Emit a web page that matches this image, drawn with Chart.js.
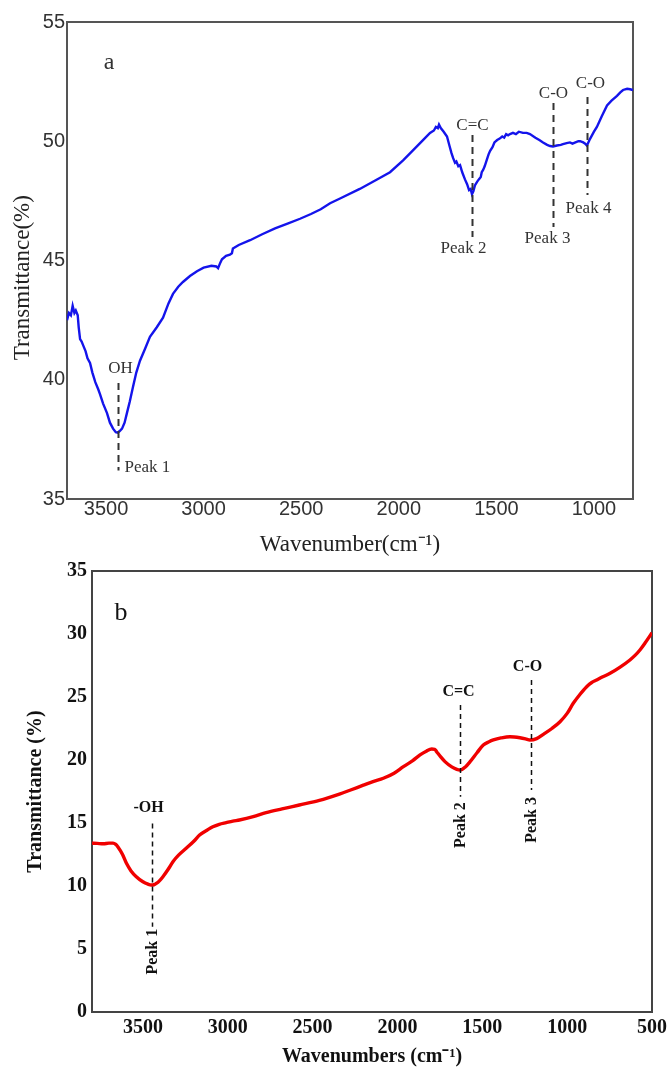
<!DOCTYPE html>
<html>
<head>
<meta charset="utf-8">
<script src="https://cdn.jsdelivr.net/npm/chart.js@4/dist/chart.umd.min.js"></script>
<style>
  body { margin: 0; background: #fff; }
  #wrap { position: relative; width: 667px; height: 1070px; }
  canvas { position: absolute; left: 0; }
</style>
</head>
<body>
<div id="wrap">
  <canvas id="chartA" width="667" height="560" style="top:0"></canvas>
  <canvas id="chartB" width="667" height="510" style="top:560px"></canvas>
</div>
<script>
// ---- panel a (blue spectrum) ----
const wnA = [3700,3690,3680,3671,3662,3655,3645,3640,3633,3625, 3615,3605,3595,3582,3570,3555,3540,3531,3515,3495,
  3480,3464,3450,3440,3430,3418,3405,3393,3378,3362, 3345,3326,3300,3275,3240,3208,3180,3157,3130,3106,
  3070,3034,3000,2960,2935,2926,2915,2906,2885,2865, 2855,2850,2820,2762,2700,2634,2570,2506,2450,2400,
  2352,2301,2200,2100,2045,1978,1930,1876,1840,1820, 1810,1800,1794,1785,1770,1753,1740,1730,1722,1712,
  1705,1695,1686,1675,1661,1650,1640,1632,1625,1618, 1610,1599,1590,1580,1575,1568,1560,1550,1540,1532,
  1520,1510,1496,1485,1470,1460,1450,1440,1430,1415, 1400,1385,1364,1345,1328,1300,1280,1261,1240,1225,
  1210,1190,1170,1159,1140,1123,1110,1095,1080,1071, 1055,1045,1036,1020,1000,985,960,933,910,882,
  865,851,830,815,800];
const trA = [42.5,42.8,42.7,43.1,42.8,42.9,42.7,42.2,41.7,41.6, 41.4,41.2,40.9,40.7,40.3,39.9,39.6,39.4,39.0,38.6,
  38.2,37.95,37.8,37.78,37.85,37.95,38.2,38.6,39.1,39.7, 40.3,40.8,41.3,41.8,42.2,42.6,43.2,43.6,43.9,44.1,
  44.35,44.55,44.7,44.78,44.75,44.68,44.9,45.05,45.2,45.25, 45.3,45.5,45.65,45.85,46.1,46.35,46.55,46.75,46.95,47.15,
  47.4,47.6,48.0,48.45,48.7,49.2,49.6,50.05,50.35,50.45, 50.6,50.55,50.7,50.55,50.4,50.2,49.8,49.5,49.3,49.1,
  49.15,48.95,49.0,48.7,48.4,48.2,47.95,48.0,47.78,47.9, 48.15,48.3,48.4,48.5,48.7,48.8,48.95,49.2,49.45,49.6,
  49.75,49.95,50.05,50.1,50.2,50.15,50.3,50.25,50.3,50.35, 50.3,50.4,50.35,50.35,50.3,50.15,50.05,49.95,49.85,49.8,
  49.78,49.82,49.85,49.88,49.92,49.95,49.9,49.95,50.0,50.0, 49.95,49.9,49.82,50.1,50.4,50.6,51.05,51.5,51.7,51.9,
  52.05,52.15,52.2,52.18,52.15];
const xTicksA = [3500, 3000, 2500, 2000, 1500, 1000];
const yTicksA = [35, 40, 45, 50, 55];
const peakWnA = [3437, 1625, 1210, 1036];
const peakGroupA = ['OH', 'C=C', 'C-O', 'C-O'];
const peakNameA = ['Peak 1', 'Peak 2', 'Peak 3', 'Peak 4'];

// ---- panel b (red spectrum) ----
const wnB = [3800,3770,3733,3700,3676,3660,3647,3620,3597,3570, 3539,3500,3470,3451,3435,3421,3400,3382,3350,3323,
  3290,3245,3200,3166,3120,3088,3050,3009,2970,2931, 2850,2774,2680,2578,2460,2342,2280,2201,2140,2083,
  2020,1965,1910,1867,1830,1798,1780,1769,1745,1720, 1680,1650,1631,1600,1572,1530,1494,1460,1435,1390,
  1337,1278,1245,1219,1180,1140,1090,1042,1000,964, 925,885,855,826,790,747,690,630,600,571,
  540,500];
const trB = [13.4,13.38,13.35,13.4,13.4,13.3,13.1,12.5,11.8,11.2, 10.74,10.34,10.15,10.08,10.1,10.2,10.45,10.74,11.35,11.93,
  12.45,12.99,13.55,14.05,14.45,14.7,14.9,15.03,15.15,15.24, 15.5,15.82,16.12,16.43,16.8,17.3,17.6,18.0,18.3,18.55,
  18.95,19.47,19.95,20.4,20.7,20.87,20.85,20.66,20.25,19.87, 19.45,19.25,19.2,19.45,19.87,20.6,21.19,21.45,21.59,21.75,
  21.85,21.77,21.68,21.59,21.7,22.04,22.5,23.04,23.7,24.5, 25.2,25.82,26.15,26.35,26.6,26.88,27.35,27.94,28.3,28.73,
  29.3,30.1];
const xTicksB = [3500, 3000, 2500, 2000, 1500, 1000, 500];
const yTicksB = [0, 5, 10, 15, 20, 25, 30, 35];
const peakWnB = [3445, 1633, 1213];
const peakGroupB = ['-OH', 'C=C', 'C-O'];
const peakNameB = ['Peak 1', 'Peak 2', 'Peak 3'];

const SERIF = "'Liberation Serif', 'Times New Roman', serif";
const SANS = "'Liberation Sans', Arial, sans-serif";

// frame + dashed peak markers, labels in data units
const peakPlugin = {
  id: 'peaks',
  beforeDatasetsDraw(chart, args, o) {
    const { ctx, chartArea: a } = chart;
    ctx.save();
    ctx.strokeStyle = o.frameColor;
    ctx.lineWidth = 2;
    ctx.strokeRect(a.left, a.top, a.right - a.left, a.bottom - a.top);
    ctx.restore();
  },
  afterDatasetsDraw(chart, args, o) {
    const { ctx } = chart;
    const xs = chart.scales.x, ys = chart.scales.y;
    ctx.save();
    ctx.fillStyle = o.color;
    ctx.textBaseline = 'middle';
    ctx.textAlign = 'center';
    ctx.font = o.letterFont;
    ctx.fillText(o.letter, xs.getPixelForValue(o.letterAt[0]), ys.getPixelForValue(o.letterAt[1]));
    o.wn.forEach((w, i) => {
      const L = o.layout[i];
      const px = Math.round(xs.getPixelForValue(w)) + 0.5;
      ctx.strokeStyle = o.color;
      ctx.lineWidth = o.dashWidth;
      ctx.setLineDash(o.dash);
      ctx.beginPath();
      ctx.moveTo(px, ys.getPixelForValue(L.top));
      ctx.lineTo(px, ys.getPixelForValue(L.bottom));
      ctx.stroke();
      ctx.setLineDash([]);
      ctx.font = o.font;
      ctx.textAlign = 'center';
      ctx.fillText(o.group[i], px + (L.gdx || 0), ys.getPixelForValue(L.gy));
      if (o.rotate) {
        ctx.save();
        ctx.translate(px, ys.getPixelForValue(L.ny));
        ctx.rotate(-Math.PI / 2);
        ctx.fillText(o.name[i], 0, 0);
        ctx.restore();
      } else {
        ctx.textAlign = L.align || 'center';
        ctx.fillText(o.name[i], px + (L.ndx || 0), ys.getPixelForValue(L.ny));
      }
    });
    ctx.restore();
  }
};

function axisX(min, max, ticks, height, font, color, pad, title) {
  return {
    type: 'linear', reverse: true, min: min, max: max,
    grid: { display: false, drawTicks: false },
    border: { display: false },
    ticks: { font: font, color: color, padding: pad, maxRotation: 0, autoSkip: false, callback: v => String(v) },
    afterBuildTicks: s => { s.ticks = ticks.map(v => ({ value: v })); },
    afterFit: s => { s.height = height; s.paddingLeft = 0; s.paddingRight = 0; },
    title: title
  };
}
function axisY(min, max, ticks, width, font, color, pad, title) {
  return {
    min: min, max: max,
    grid: { display: false, drawTicks: false },
    border: { display: false },
    ticks: { font: font, color: color, padding: pad, callback: v => String(v) },
    afterBuildTicks: s => { s.ticks = ticks.map(v => ({ value: v })); },
    afterFit: s => { s.width = width; s.paddingTop = 0; s.paddingBottom = 0; },
    title: title
  };
}

new Chart(document.getElementById('chartA'), {
  type: 'line',
  data: {
    datasets: [{
      data: wnA.map((w, i) => ({ x: w, y: trA[i] })),
      borderColor: 'rgb(20, 20, 235)',
      borderWidth: 2.4,
      pointRadius: 0,
      tension: 0
    }]
  },
  options: {
    responsive: false,
    animation: false,
    layout: { padding: { top: 22, right: 34, left: 0, bottom: 0 } },
    plugins: {
      legend: { display: false },
      tooltip: { enabled: false },
      peaks: {
        frameColor: '#555', color: '#333', dash: [7, 5], dashWidth: 2,
        font: '17px ' + SERIF, letter: 'a', letterFont: '24px ' + SERIF, letterAt: [3485, 53.3],
        wn: peakWnA, group: peakGroupA, name: peakNameA,
        layout: [
          { top: 39.86, bottom: 36.2, gy: 40.45, gdx: 2, ny: 36.3, ndx: 6, align: 'left' },
          { top: 50.26, bottom: 45.99, gy: 50.68, ny: 45.5, ndx: -9 },
          { top: 51.6, bottom: 46.4, gy: 52.0, ny: 45.94, ndx: -6 },
          { top: 51.86, bottom: 47.75, gy: 52.44, gdx: 3, ny: 47.16, ndx: 1 }
        ]
      }
    },
    scales: {
      x: axisX(800, 3700, xTicksA, 61, { family: SANS, size: 20, lineHeight: 1 }, '#333', 0,
        { display: true, text: 'Wavenumber(cm\u207B\u00B9)', color: '#222',
          font: { family: SERIF, size: 23, lineHeight: 1 }, padding: { top: 0, bottom: 3.5 } }),
      y: axisY(35, 55, yTicksA, 67, { family: SANS, size: 20, lineHeight: 1 }, '#333', 2,
        { display: true, text: 'Transmittance(%)      ', color: '#222',
          font: { family: SERIF, size: 23, lineHeight: 1 }, padding: { top: 11.5, bottom: 0 } })
    }
  },
  plugins: [peakPlugin]
});

new Chart(document.getElementById('chartB'), {
  type: 'line',
  data: {
    datasets: [{
      data: wnB.map((w, i) => ({ x: w, y: trB[i] })),
      borderColor: 'rgb(240, 0, 0)',
      borderWidth: 3.4,
      pointRadius: 0,
      cubicInterpolationMode: 'monotone'
    }]
  },
  options: {
    responsive: false,
    animation: false,
    layout: { padding: { top: 11, right: 15, left: 0, bottom: 0 } },
    plugins: {
      legend: { display: false },
      tooltip: { enabled: false },
      peaks: {
        frameColor: '#444', color: '#111', dash: [5, 4], dashWidth: 1.5,
        font: 'bold 16px ' + SERIF, letter: 'b', letterFont: '26px ' + SERIF, letterAt: [3629, 31.67],
        rotate: true,
        wn: peakWnB, group: peakGroupB, name: peakNameB,
        layout: [
          { top: 14.97, bottom: 6.77, gy: 16.17, gdx: -4, ny: 4.79 },
          { top: 24.37, bottom: 17.09, gy: 25.42, gdx: -2, ny: 14.84 },
          { top: 26.35, bottom: 17.62, gy: 27.4, gdx: -4, ny: 15.24 }
        ]
      }
    },
    scales: {
      x: axisX(500, 3800, xTicksB, 58, { family: SERIF, size: 20, weight: 'bold', lineHeight: 1 }, '#111', 6,
        { display: true, text: 'Wavenumbers (cm\u207B\u00B9)', color: '#111',
          font: { family: SERIF, size: 20, weight: 'bold', lineHeight: 1 }, padding: { top: 0, bottom: 3 } }),
      y: axisY(0, 35, yTicksB, 92, { family: SERIF, size: 20, weight: 'bold', lineHeight: 1 }, '#111', 5,
        { display: true, text: 'Transmittance (%)', color: '#111',
          font: { family: SERIF, size: 20, weight: 'bold', lineHeight: 1 }, padding: { top: 26, bottom: 0 } })
    }
  },
  plugins: [peakPlugin]
});
</script>
</body>
</html>
